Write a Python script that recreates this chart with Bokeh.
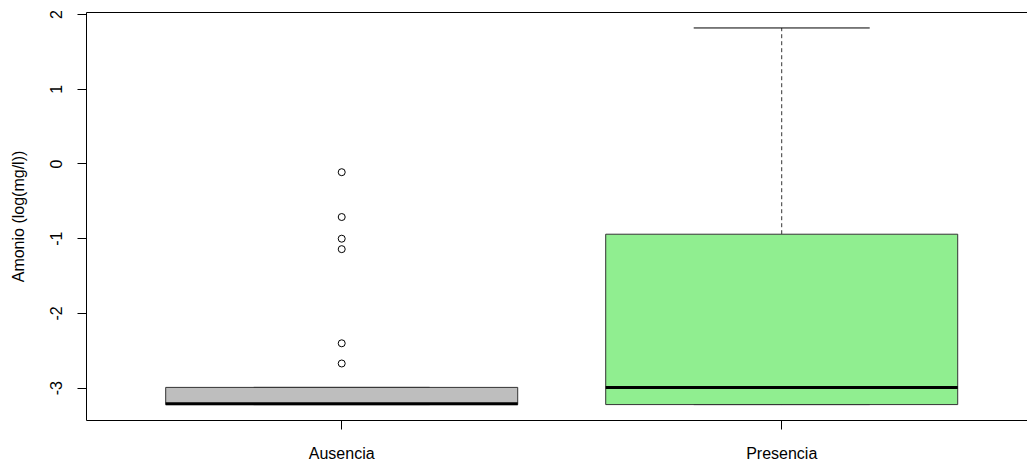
from bokeh.plotting import figure
from bokeh.models import FixedTicker, Range1d, ColumnDataSource, LinearAxis
from bokeh.embed import file_html
from bokeh.resources import INLINE

# ---- data ----
categories = ["Ausencia", "Presencia"]
positions = [1, 2]
q1 = [-3.22, -3.22]
median = [-3.21, -2.99]
q3 = [-2.99, -0.94]
whisker_low = [-3.22, -3.22]
whisker_high = [-2.99, 1.82]
fill_colors = ["#BEBEBE", "#90EE90"]
outlier_group = [1, 1, 1, 1, 1, 1]
outlier_values = [-0.11, -0.71, -1.00, -1.14, -2.40, -2.67]
y_ticks = [-3, -2, -1, 0, 1, 2]
y_tick_labels = ["-3", "-2", "-1", "0", "1", "2"]

FONT = "Liberation Sans"
box_w = 0.8
cap_w = 0.4

p = figure(width=1027, height=464, output_backend="svg", toolbar_location=None,
           x_range=Range1d(0.42, 2.5586), y_range=Range1d(-3.433, 2.027),
           min_border_left=86, min_border_right=0, min_border_top=12, min_border_bottom=43)
p.xgrid.visible = False
p.ygrid.visible = False
p.outline_line_color = None
p.background_fill_color = "white"
p.border_fill_color = "white"

xaxis = p.below[0]
yaxis = p.left[0]

# top border (right side lies outside the visible window in the reference)
top_axis = LinearAxis(axis_line_color="black", major_tick_line_color=None, minor_tick_line_color=None,
                      major_tick_out=0, major_tick_in=0, minor_tick_out=0, minor_tick_in=0,
                      major_label_standoff=0, major_label_text_font_size="0px",
                      major_label_text_color=None, ticker=FixedTicker(ticks=[]))
p.add_layout(top_axis, "above")

src = ColumnDataSource(dict(x=positions, q1=q1, med=median, q3=q3, lo=whisker_low, hi=whisker_high,
                            color=fill_colors,
                            xl=[x - box_w / 2 for x in positions], xr=[x + box_w / 2 for x in positions],
                            cl=[x - cap_w / 2 for x in positions], cr=[x + cap_w / 2 for x in positions]))

# whiskers (dashed)
p.segment(x0="x", y0="q3", x1="x", y1="hi", source=src, line_color="#333333", line_width=1, line_dash="4 3")
p.segment(x0="x", y0="q1", x1="x", y1="lo", source=src, line_color="#333333", line_width=1, line_dash="4 3")
# caps
p.segment(x0="cl", y0="hi", x1="cr", y1="hi", source=src, line_color="black", line_width=1)
p.segment(x0="cl", y0="lo", x1="cr", y1="lo", source=src, line_color="black", line_width=1)
# boxes
p.quad(left="xl", right="xr", bottom="q1", top="q3", source=src, fill_color="color",
       line_color="#333333", line_width=1)
# medians
p.segment(x0="xl", y0="med", x1="xr", y1="med", source=src, line_color="black", line_width=3)
# outliers
p.scatter(outlier_group, outlier_values, marker="circle", size=7, fill_color=None,
          line_color="black", line_width=1)

# axes
xaxis.ticker = FixedTicker(ticks=positions)
xaxis.major_label_overrides = {pos: c for pos, c in zip(positions, categories)}
yaxis.ticker = FixedTicker(ticks=y_ticks)
yaxis.major_label_overrides = {t: s for t, s in zip(y_ticks, y_tick_labels)}
for ax in (xaxis, yaxis):
    ax.axis_line_color = "black"
    ax.major_tick_line_color = "black"
    ax.major_tick_out = 9
    ax.major_tick_in = 0
    ax.minor_tick_line_color = None
    ax.major_label_text_font = FONT
    ax.major_label_text_font_size = "16px"
    ax.major_label_text_color = "black"
    ax.axis_label_text_font = FONT
    ax.axis_label_text_font_size = "16px"
    ax.axis_label_text_font_style = "normal"
    ax.axis_label_text_color = "black"

yaxis.major_label_orientation = "vertical"
yaxis.major_label_standoff = 15
yaxis.axis_label = "Amonio (log(mg/l))"
yaxis.axis_label_standoff = 21
xaxis.major_label_standoff = 15

html = file_html(p, INLINE)
open("out.html", "w").write(html)
